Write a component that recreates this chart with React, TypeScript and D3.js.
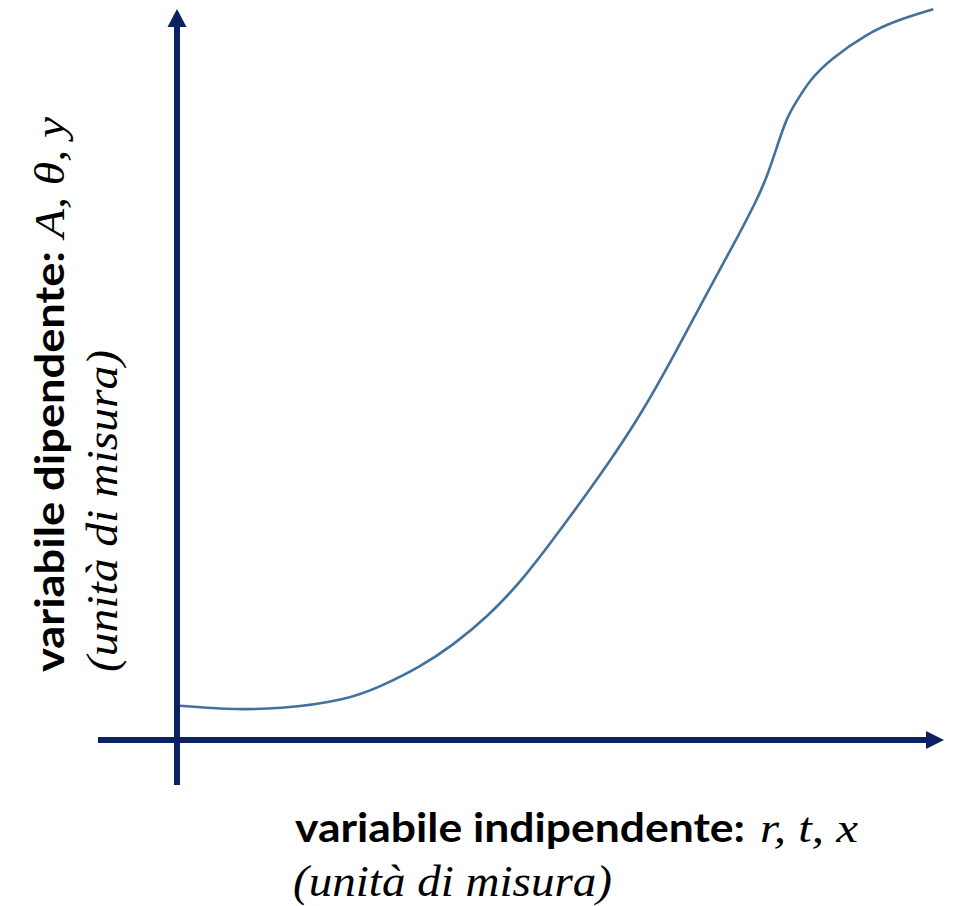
import React from "react";
import * as d3 from "d3";

// Curve samples (abstract units: x 0..100 along the independent axis, y 0..100 along the dependent axis)
const curveX = [0.4, 5.9, 13.4, 22.2, 26.5, 31.7, 36.0, 40.4, 45.1, 51.2, 56.4, 60.6, 64.7, 69.1, 73.4, 75.6, 76.9, 78.2, 79.5, 80.9, 82.5, 85.1, 90.0, 93.9, 98.6];
const curveY = [4.7, 4.2, 4.2, 5.5, 7.3, 10.0, 13.0, 16.8, 21.9, 30.5, 38.1, 44.8, 52.5, 61.2, 69.5, 74.0, 77.1, 81.2, 85.3, 87.7, 90.4, 93.2, 96.8, 98.6, 100.1];

const xLabelMain = "variabile indipendente:";
const xLabelVars = "r, t, x";
const xLabelUnit = "(unità di misura)";
const yLabelMain = "variabile dipendente:";
const yLabelVars = "A, θ, y";
const yLabelUnit = "(unità di misura)";

const W = 953;
const H = 906;
const AXIS = "#0b2161";
const CURVE = "#41719c";

export default function App() {
  const x = d3.scaleLinear().domain([0, 100]).range([177, 944]);
  const y = d3.scaleLinear().domain([0, 100]).range([740, 10]);

  const pts = curveX.map((v, i) => [v, curveY[i]] as [number, number]);
  const line = d3
    .line<[number, number]>()
    .x((d) => x(d[0]))
    .y((d) => y(d[1]))
    .curve(d3.curveBasis);

  const x0 = x(0);
  const y0 = y(0);
  const xEnd = x(100);
  const yTop = y(100) - 1;

  const sans = "Lato, 'Open Sans', sans-serif";
  const serif = "'Liberation Serif', 'Times New Roman', serif";

  return (
    <svg
      width={W}
      height={H}
      style={{ position: "absolute", left: 0, top: 0, background: "#fff" }}
    >
      {/* curve */}
      <path d={line(pts) || ""} fill="none" stroke={CURVE} strokeWidth={2.6} />

      {/* horizontal axis */}
      <line x1={98} y1={y0} x2={xEnd - 17} y2={y0} stroke={AXIS} strokeWidth={5.8} />
      <polygon
        points={`${xEnd},${y0} ${xEnd - 18},${y0 - 9} ${xEnd - 18},${y0 + 9}`}
        fill={AXIS}
      />

      {/* vertical axis */}
      <line x1={x0} y1={785} x2={x0} y2={yTop + 17} stroke={AXIS} strokeWidth={6} />
      <polygon
        points={`${x0},${yTop} ${x0 - 9.5},${yTop + 18} ${x0 + 9.5},${yTop + 18}`}
        fill={AXIS}
      />

      {/* x label */}
      <text
        x={295}
        y={842}
        fontFamily={sans}
        fontWeight={700}
        fontSize={41}
        textLength={450}
        lengthAdjust="spacingAndGlyphs"
        fill="#000"
      >
        {xLabelMain}
      </text>
      <text
        x={760}
        y={842}
        fontFamily={serif}
        fontStyle="italic"
        fontSize={43}
        textLength={98}
        lengthAdjust="spacingAndGlyphs"
        fill="#000"
      >
        {xLabelVars}
      </text>
      <text
        x={293}
        y={896}
        fontFamily={serif}
        fontStyle="italic"
        fontSize={44}
        textLength={319}
        lengthAdjust="spacingAndGlyphs"
        fill="#000"
      >
        {xLabelUnit}
      </text>

      {/* y label */}
      <g transform="rotate(-90)">
        <text
          x={-672}
          y={64}
          fontFamily={sans}
          fontWeight={700}
          fontSize={41}
          textLength={421}
          lengthAdjust="spacingAndGlyphs"
          fill="#000"
        >
          {yLabelMain}
        </text>
        <text
          x={-238}
          y={64}
          fontFamily={serif}
          fontStyle="italic"
          fontSize={43}
          textLength={121}
          lengthAdjust="spacingAndGlyphs"
          fill="#000"
        >
          {yLabelVars}
        </text>
        <text
          x={-672}
          y={117}
          fontFamily={serif}
          fontStyle="italic"
          fontSize={44}
          textLength={322}
          lengthAdjust="spacingAndGlyphs"
          fill="#000"
        >
          {yLabelUnit}
        </text>
      </g>
    </svg>
  );
}
